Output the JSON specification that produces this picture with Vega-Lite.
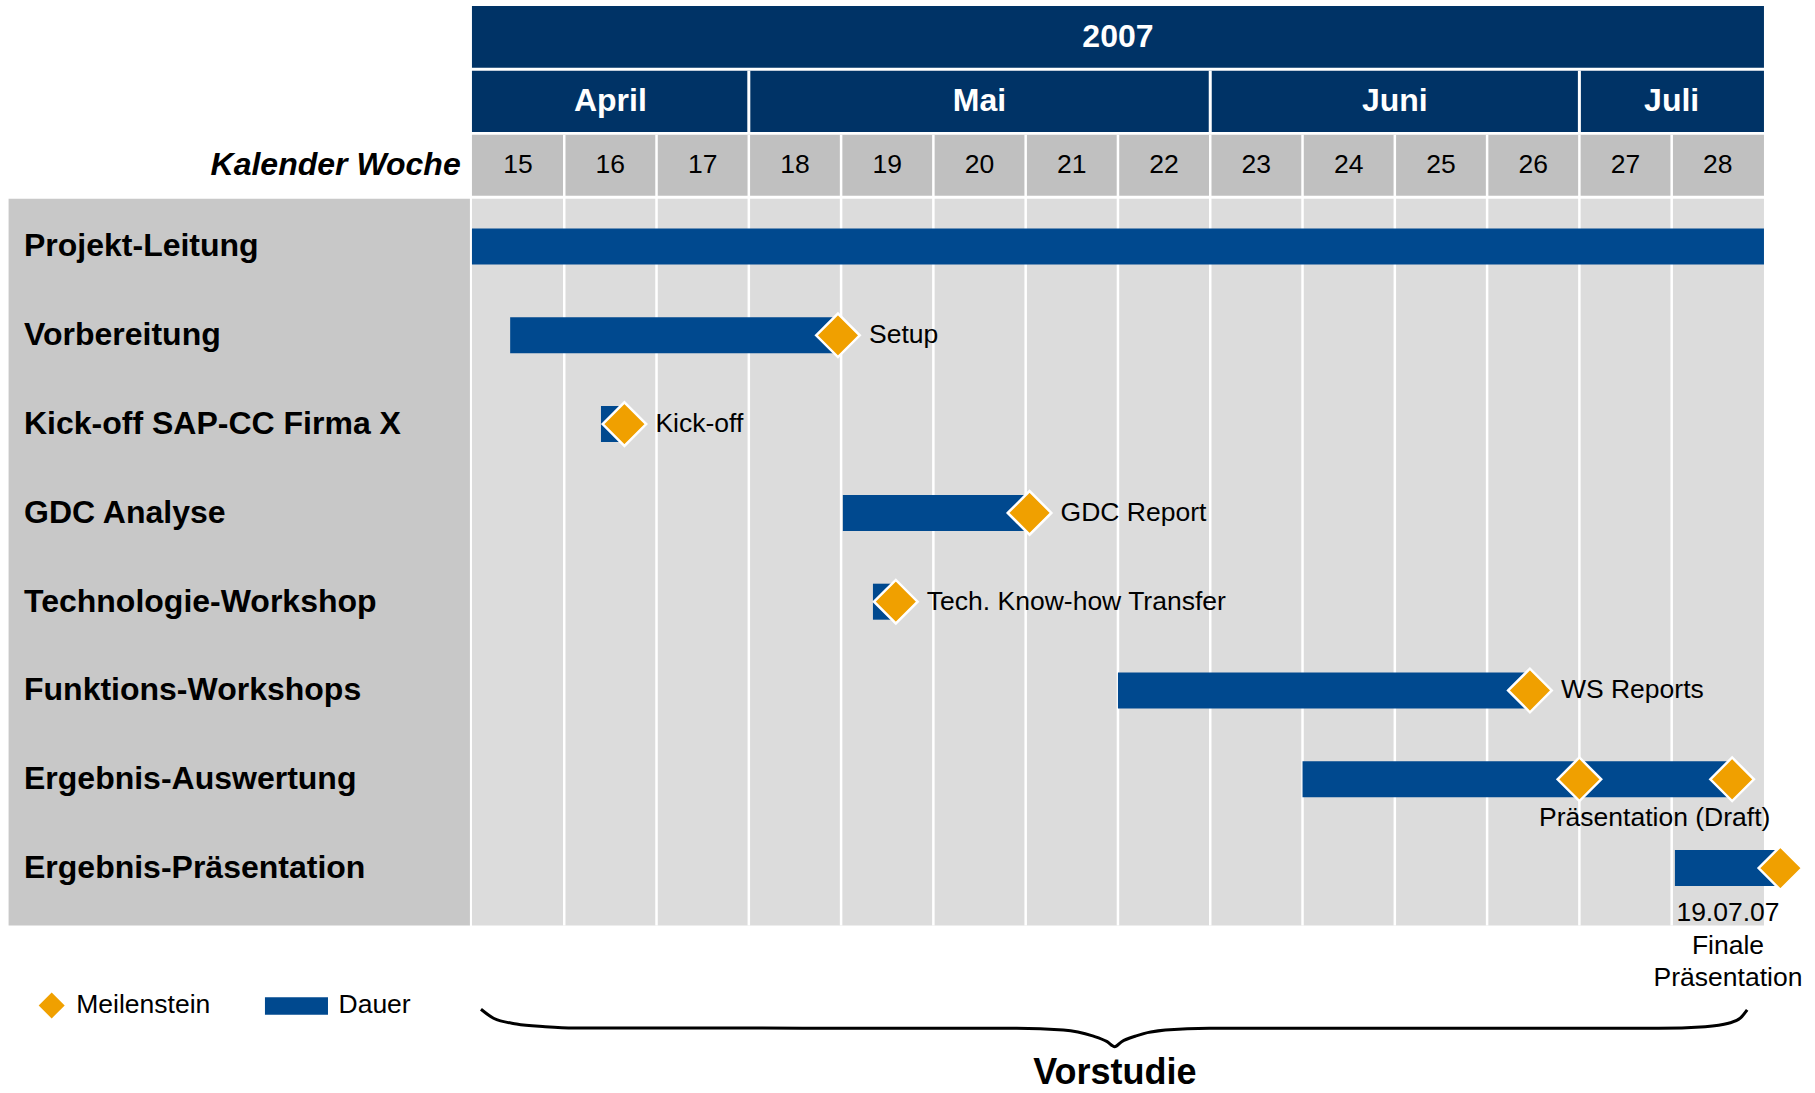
{
  "$schema": "https://vega.github.io/schema/vega-lite/v6.json",
  "width": 1815,
  "height": 1093,
  "padding": 0,
  "autosize": {"type": "none"},
  "config": {"view": {"stroke": null}, "axis": {"disable": true}, "legend": {"disable": true}, "scale": {"continuousPadding": 0}},
  "datasets": {
    "tasks": [
      {"row": 1, "name": "Projekt-Leitung", "start": 15, "end": 29},
      {"row": 2, "name": "Vorbereitung", "start": 15.414, "end": 18.95},
      {"row": 3, "name": "Kick-off SAP-CC Firma X", "start": 16.398, "end": 16.65},
      {"row": 4, "name": "GDC Analyse", "start": 19.019, "end": 21.04},
      {"row": 5, "name": "Technologie-Workshop", "start": 19.345, "end": 19.59},
      {"row": 6, "name": "Funktions-Workshops", "start": 22.0, "end": 26.46},
      {"row": 7, "name": "Ergebnis-Auswertung", "start": 24.0, "end": 28.65},
      {"row": 8, "name": "Ergebnis-Präsentation", "start": 28.035, "end": 29.15}
    ],
    "milestones": [
      {"row": 2, "week": 18.966, "label": "Setup"},
      {"row": 3, "week": 16.652, "label": "Kick-off"},
      {"row": 4, "week": 21.042, "label": "GDC Report"},
      {"row": 5, "week": 19.593, "label": "Tech. Know-how Transfer"},
      {"row": 6, "week": 26.464, "label": "WS Reports"},
      {"row": 7, "week": 27.0, "label": null},
      {"row": 7, "week": 28.655, "label": null},
      {"row": 8, "week": 29.178, "label": null}
    ],
    "months": [
      {"month": "April", "start": 15, "end": 18},
      {"month": "Mai", "start": 18, "end": 23},
      {"month": "Juni", "start": 23, "end": 27},
      {"month": "Juli", "start": 27, "end": 29}
    ],
    "weeks": [
      {"kw": 15}, {"kw": 16}, {"kw": 17}, {"kw": 18}, {"kw": 19}, {"kw": 20}, {"kw": 21},
      {"kw": 22}, {"kw": 23}, {"kw": 24}, {"kw": 25}, {"kw": 26}, {"kw": 27}, {"kw": 28}
    ],
    "brace": [
      {"x": 15.0975, "y": 9.590}, {"x": 15.234, "y": 9.691}, {"x": 15.483, "y": 9.756},
      {"x": 15.794, "y": 9.786}, {"x": 16.105, "y": 9.801}, {"x": 20.902, "y": 9.804},
      {"x": 21.408, "y": 9.823}, {"x": 21.725, "y": 9.890}, {"x": 21.883, "y": 9.955},
      {"x": 21.964, "y": 10.011}, {"x": 22.040, "y": 9.955}, {"x": 22.198, "y": 9.890},
      {"x": 22.514, "y": 9.823}, {"x": 22.989, "y": 9.804}, {"x": 27.857, "y": 9.804},
      {"x": 28.363, "y": 9.786}, {"x": 28.616, "y": 9.748}, {"x": 28.743, "y": 9.691},
      {"x": 28.818, "y": 9.598}
    ]
  },
  "data": {"values": [{}]},
  "layer": [
    {
      "mark": {"type": "rect", "color": "#C8C8C8"},
      "encoding": {
        "x": {"datum": 9.979, "type": "quantitative", "scale": {"domain": [9.886, 29.553], "nice": false, "zero": false, "padding": 0}},
        "x2": {"datum": 14.978},
        "y": {"datum": 0.4617, "type": "quantitative", "scale": {"domain": [-1.776, 10.533], "nice": false, "zero": false, "reverse": true, "padding": 0}},
        "y2": {"datum": 8.646}
      }
    },
    {
      "mark": {"type": "rect", "color": "#DCDCDC"},
      "encoding": {
        "x": {"datum": 15, "type": "quantitative", "scale": {"domain": [9.886, 29.553], "nice": false, "zero": false, "padding": 0}},
        "x2": {"datum": 29},
        "y": {"datum": 0.4617, "type": "quantitative", "scale": {"domain": [-1.776, 10.533], "nice": false, "zero": false, "reverse": true, "padding": 0}},
        "y2": {"datum": 8.646}
      }
    },
    {
      "mark": {"type": "rect", "color": "#003366"},
      "encoding": {
        "x": {"datum": 15, "type": "quantitative", "scale": {"domain": [9.886, 29.553], "nice": false, "zero": false, "padding": 0}},
        "x2": {"datum": 29},
        "y": {"datum": -1.708, "type": "quantitative", "scale": {"domain": [-1.776, 10.533], "nice": false, "zero": false, "reverse": true, "padding": 0}},
        "y2": {"datum": -1.0135}
      }
    },
    {
      "data": {"name": "months"},
      "mark": {"type": "rect", "color": "#003366"},
      "encoding": {
        "x": {"field": "start", "type": "quantitative", "scale": {"domain": [9.886, 29.553], "nice": false, "zero": false, "padding": 0}},
        "x2": {"field": "end"},
        "y": {"datum": -0.98, "type": "quantitative", "scale": {"domain": [-1.776, 10.533], "nice": false, "zero": false, "reverse": true, "padding": 0}},
        "y2": {"datum": -0.289}
      }
    },
    {
      "mark": {"type": "rect", "color": "#C0C0C0"},
      "encoding": {
        "x": {"datum": 15, "type": "quantitative", "scale": {"domain": [9.886, 29.553], "nice": false, "zero": false, "padding": 0}},
        "x2": {"datum": 29},
        "y": {"datum": -0.259, "type": "quantitative", "scale": {"domain": [-1.776, 10.533], "nice": false, "zero": false, "reverse": true, "padding": 0}},
        "y2": {"datum": 0.428}
      }
    },
    {
      "data": {"name": "weeks"},
      "transform": [{"filter": "datum.kw > 15"}],
      "mark": {"type": "rule", "color": "#FFFFFF", "strokeWidth": 2.5},
      "encoding": {
        "x": {"field": "kw", "type": "quantitative", "scale": {"domain": [9.886, 29.553], "nice": false, "zero": false, "padding": 0}},
        "y": {"datum": -0.259, "type": "quantitative", "scale": {"domain": [-1.776, 10.533], "nice": false, "zero": false, "reverse": true, "padding": 0}},
        "y2": {"datum": 8.646}
      }
    },
    {
      "data": {"name": "months"},
      "transform": [{"filter": "datum.start > 15"}],
      "mark": {"type": "rule", "color": "#FFFFFF", "strokeWidth": 3},
      "encoding": {
        "x": {"field": "start", "type": "quantitative", "scale": {"domain": [9.886, 29.553], "nice": false, "zero": false, "padding": 0}},
        "y": {"datum": -0.98, "type": "quantitative", "scale": {"domain": [-1.776, 10.533], "nice": false, "zero": false, "reverse": true, "padding": 0}},
        "y2": {"datum": -0.289}
      }
    },
    {
      "mark": {"type": "text", "font": "Liberation Sans", "fontSize": 32, "fontWeight": "bold", "color": "#FFFFFF", "align": "center", "baseline": "middle"},
      "encoding": {
        "x": {"datum": 22, "type": "quantitative", "scale": {"domain": [9.886, 29.553], "nice": false, "zero": false, "padding": 0}},
        "y": {"datum": -1.36, "type": "quantitative", "scale": {"domain": [-1.776, 10.533], "nice": false, "zero": false, "reverse": true, "padding": 0}},
        "text": {"value": "2007"}
      }
    },
    {
      "data": {"name": "months"},
      "transform": [{"calculate": "(datum.start + datum.end) / 2", "as": "mid"}],
      "mark": {"type": "text", "font": "Liberation Sans", "fontSize": 32, "fontWeight": "bold", "color": "#FFFFFF", "align": "center", "baseline": "middle"},
      "encoding": {
        "x": {"field": "mid", "type": "quantitative", "scale": {"domain": [9.886, 29.553], "nice": false, "zero": false, "padding": 0}},
        "y": {"datum": -0.6346, "type": "quantitative", "scale": {"domain": [-1.776, 10.533], "nice": false, "zero": false, "reverse": true, "padding": 0}},
        "text": {"field": "month"}
      }
    },
    {
      "data": {"name": "weeks"},
      "mark": {"type": "text", "font": "Liberation Sans", "fontSize": 26.5, "color": "#000000", "align": "center", "baseline": "middle", "xOffset": 46.1},
      "encoding": {
        "x": {"field": "kw", "type": "quantitative", "scale": {"domain": [9.886, 29.553], "nice": false, "zero": false, "padding": 0}},
        "y": {"datum": 0.0845, "type": "quantitative", "scale": {"domain": [-1.776, 10.533], "nice": false, "zero": false, "reverse": true, "padding": 0}},
        "text": {"field": "kw"}
      }
    },
    {
      "mark": {"type": "text", "font": "Liberation Sans", "fontSize": 32, "fontWeight": "bold", "fontStyle": "italic", "color": "#000000", "align": "right", "baseline": "middle"},
      "encoding": {
        "x": {"datum": 14.878, "type": "quantitative", "scale": {"domain": [9.886, 29.553], "nice": false, "zero": false, "padding": 0}},
        "y": {"datum": 0.0845, "type": "quantitative", "scale": {"domain": [-1.776, 10.533], "nice": false, "zero": false, "reverse": true, "padding": 0}},
        "text": {"value": "Kalender Woche"}
      }
    },
    {
      "data": {"name": "tasks"},
      "mark": {"type": "text", "font": "Liberation Sans", "fontSize": 32, "fontWeight": "bold", "color": "#000000", "align": "left", "baseline": "middle"},
      "encoding": {
        "x": {"datum": 10.146, "type": "quantitative", "scale": {"domain": [9.886, 29.553], "nice": false, "zero": false, "padding": 0}},
        "y": {"field": "row", "type": "quantitative", "scale": {"domain": [-1.776, 10.533], "nice": false, "zero": false, "reverse": true, "padding": 0}},
        "text": {"field": "name"}
      }
    },
    {
      "data": {"name": "tasks"},
      "mark": {"type": "bar", "color": "#00498F", "height": 36},
      "encoding": {
        "x": {"field": "start", "type": "quantitative", "scale": {"domain": [9.886, 29.553], "nice": false, "zero": false, "padding": 0}},
        "x2": {"field": "end"},
        "y": {"field": "row", "type": "quantitative", "scale": {"domain": [-1.776, 10.533], "nice": false, "zero": false, "reverse": true, "padding": 0}}
      }
    },
    {
      "data": {"name": "milestones"},
      "mark": {"type": "point", "shape": "diamond", "filled": true, "size": 1900, "fill": "#F0A000", "stroke": "#FFFFFF", "strokeWidth": 2.5, "opacity": 1},
      "encoding": {
        "x": {"field": "week", "type": "quantitative", "scale": {"domain": [9.886, 29.553], "nice": false, "zero": false, "padding": 0}},
        "y": {"field": "row", "type": "quantitative", "scale": {"domain": [-1.776, 10.533], "nice": false, "zero": false, "reverse": true, "padding": 0}}
      }
    },
    {
      "data": {"name": "milestones"},
      "transform": [{"filter": "datum.label != null"}],
      "mark": {"type": "text", "font": "Liberation Sans", "fontSize": 26.5, "color": "#000000", "align": "left", "baseline": "middle", "dx": 31},
      "encoding": {
        "x": {"field": "week", "type": "quantitative", "scale": {"domain": [9.886, 29.553], "nice": false, "zero": false, "padding": 0}},
        "y": {"field": "row", "type": "quantitative", "scale": {"domain": [-1.776, 10.533], "nice": false, "zero": false, "reverse": true, "padding": 0}},
        "text": {"field": "label"}
      }
    },
    {
      "mark": {"type": "text", "font": "Liberation Sans", "fontSize": 26.5, "color": "#000000", "align": "center", "baseline": "middle"},
      "encoding": {
        "x": {"datum": 27.816, "type": "quantitative", "scale": {"domain": [9.886, 29.553], "nice": false, "zero": false, "padding": 0}},
        "y": {"datum": 7.436, "type": "quantitative", "scale": {"domain": [-1.776, 10.533], "nice": false, "zero": false, "reverse": true, "padding": 0}},
        "text": {"value": "Präsentation (Draft)"}
      }
    },
    {
      "mark": {"type": "text", "font": "Liberation Sans", "fontSize": 26.5, "color": "#000000", "align": "center", "baseline": "middle", "lineHeight": 32.7},
      "encoding": {
        "x": {"datum": 28.61, "type": "quantitative", "scale": {"domain": [9.886, 29.553], "nice": false, "zero": false, "padding": 0}},
        "y": {"datum": 8.506, "type": "quantitative", "scale": {"domain": [-1.776, 10.533], "nice": false, "zero": false, "reverse": true, "padding": 0}},
        "text": {"value": ["19.07.07", "Finale", "Präsentation"]}
      }
    },
    {
      "mark": {"type": "point", "shape": "diamond", "filled": true, "size": 676, "fill": "#F0A000", "strokeWidth": 0, "opacity": 1},
      "encoding": {
        "x": {"datum": 10.446, "type": "quantitative", "scale": {"domain": [9.886, 29.553], "nice": false, "zero": false, "padding": 0}},
        "y": {"datum": 9.547, "type": "quantitative", "scale": {"domain": [-1.776, 10.533], "nice": false, "zero": false, "reverse": true, "padding": 0}}
      }
    },
    {
      "mark": {"type": "text", "font": "Liberation Sans", "fontSize": 26.5, "color": "#000000", "align": "left", "baseline": "middle"},
      "encoding": {
        "x": {"datum": 10.712, "type": "quantitative", "scale": {"domain": [9.886, 29.553], "nice": false, "zero": false, "padding": 0}},
        "y": {"datum": 9.547, "type": "quantitative", "scale": {"domain": [-1.776, 10.533], "nice": false, "zero": false, "reverse": true, "padding": 0}},
        "text": {"value": "Meilenstein"}
      }
    },
    {
      "mark": {"type": "rect", "color": "#00498F"},
      "encoding": {
        "x": {"datum": 12.757, "type": "quantitative", "scale": {"domain": [9.886, 29.553], "nice": false, "zero": false, "padding": 0}},
        "x2": {"datum": 13.44},
        "y": {"datum": 9.455, "type": "quantitative", "scale": {"domain": [-1.776, 10.533], "nice": false, "zero": false, "reverse": true, "padding": 0}},
        "y2": {"datum": 9.651}
      }
    },
    {
      "mark": {"type": "text", "font": "Liberation Sans", "fontSize": 26.5, "color": "#000000", "align": "left", "baseline": "middle"},
      "encoding": {
        "x": {"datum": 13.554, "type": "quantitative", "scale": {"domain": [9.886, 29.553], "nice": false, "zero": false, "padding": 0}},
        "y": {"datum": 9.547, "type": "quantitative", "scale": {"domain": [-1.776, 10.533], "nice": false, "zero": false, "reverse": true, "padding": 0}},
        "text": {"value": "Dauer"}
      }
    },
    {
      "data": {"name": "brace"},
      "mark": {"type": "line", "color": "#000000", "strokeWidth": 3, "interpolate": "monotone"},
      "encoding": {
        "x": {"field": "x", "type": "quantitative", "scale": {"domain": [9.886, 29.553], "nice": false, "zero": false, "padding": 0}},
        "y": {"field": "y", "type": "quantitative", "scale": {"domain": [-1.776, 10.533], "nice": false, "zero": false, "reverse": true, "padding": 0}}
      }
    },
    {
      "mark": {"type": "text", "font": "Liberation Sans", "fontSize": 36, "fontWeight": "bold", "color": "#000000", "align": "center", "baseline": "middle"},
      "encoding": {
        "x": {"datum": 21.967, "type": "quantitative", "scale": {"domain": [9.886, 29.553], "nice": false, "zero": false, "padding": 0}},
        "y": {"datum": 10.31, "type": "quantitative", "scale": {"domain": [-1.776, 10.533], "nice": false, "zero": false, "reverse": true, "padding": 0}},
        "text": {"value": "Vorstudie"}
      }
    }
  ]
}
